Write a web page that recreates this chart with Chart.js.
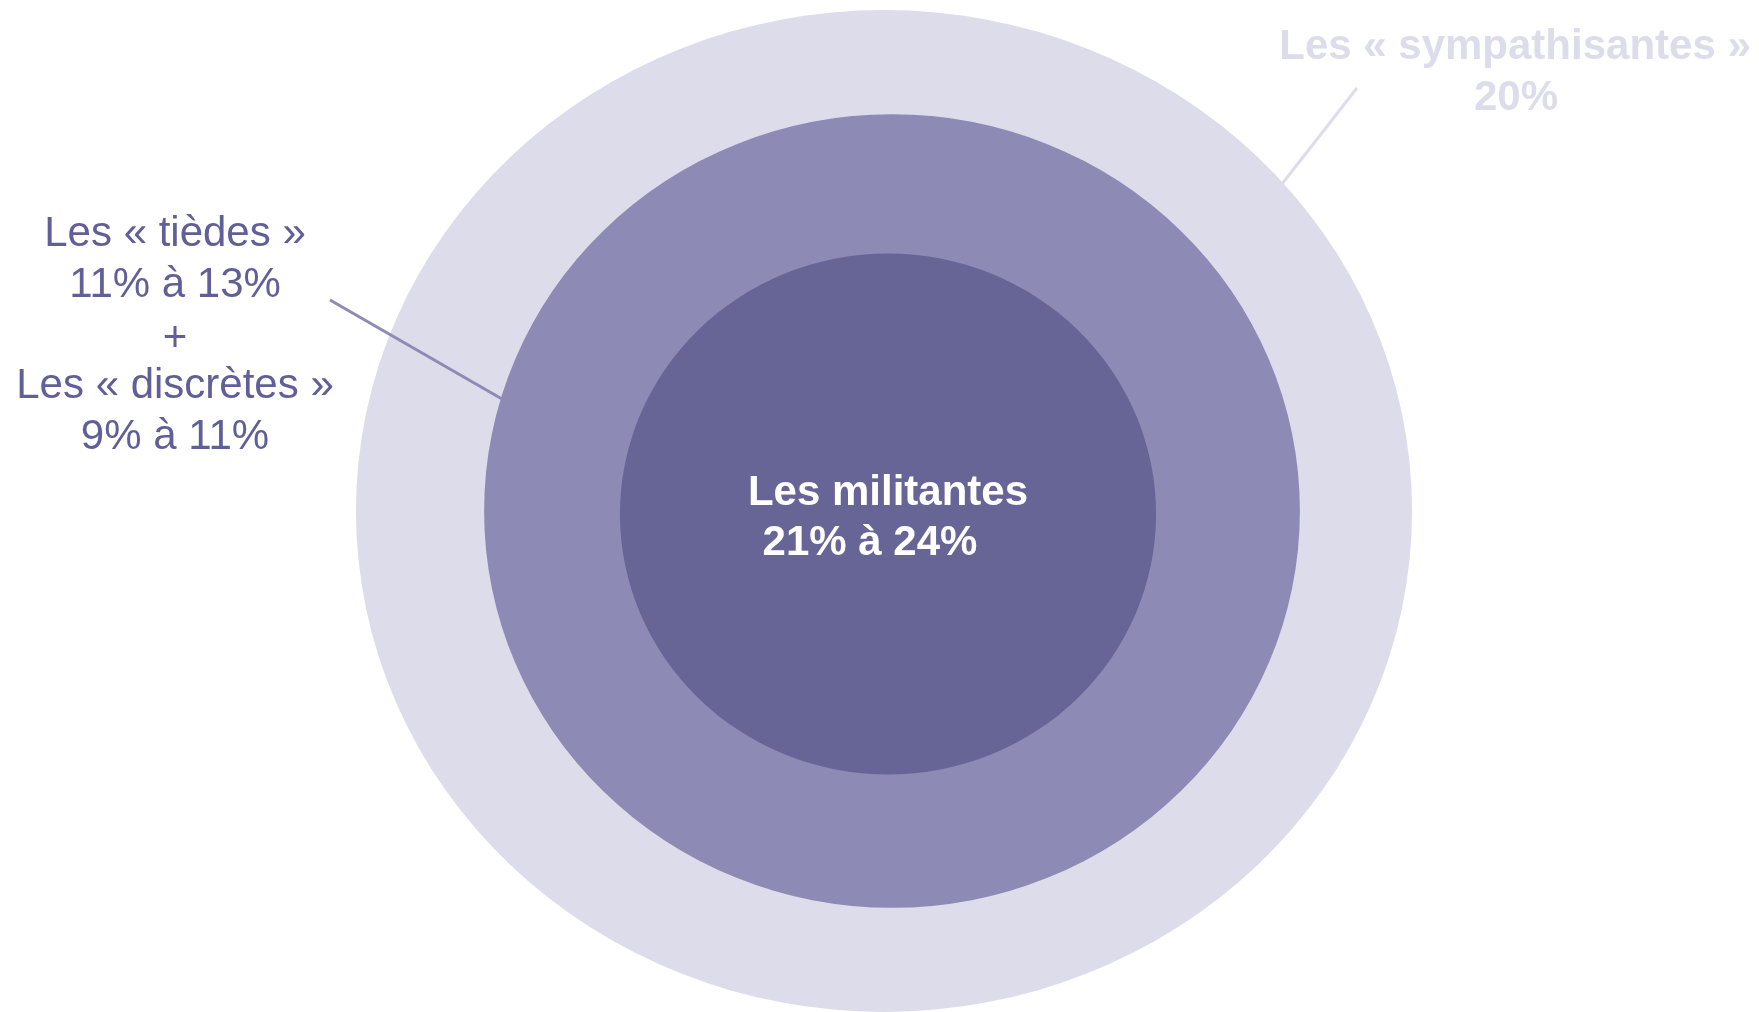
<!DOCTYPE html>
<html>
<head>
<meta charset="utf-8">
<script src="https://cdn.jsdelivr.net/npm/chart.js@4/dist/chart.umd.min.js"></script>
<style>
  html, body { margin: 0; padding: 0; background: #ffffff; }
  #wrap { width: 1759px; height: 1012px; position: relative; }
</style>
</head>
<body>
<div id="wrap"><canvas id="c"></canvas></div>
<script>
// Segments, from outermost ring to the core
const categories = ['Les « sympathisantes »', 'Les « tièdes » + Les « discrètes »', 'Les militantes'];
const shareValues = [20, 22, 22.5];          // approximate shares (%)
const ringThickness = [104, 136, 260];        // relative ring weights
const ringColors = ['#DDDCEA', '#8D8BB5', '#666596'];
const ringStretchX = [1.054, 1.028, 1.029];   // slight elliptical shape
const ringShiftX = [-4, 4, 0];
const ringShiftY = [0, 0, 3];

const labelLines = {
  sympathisantes: ['Les « sympathisantes »', '20%'],
  tiedes: ['Les « tièdes »', '11% à 13%', '+', 'Les « discrètes »', '9% à 11%'],
  militantes: ['Les militantes', '21% à 24%']
};

const FONT = '"Liberation Sans", Arial, Helvetica, sans-serif';

// Draw each ring as a full ellipse (stacked), so small offsets leave no gaps
const ellipsePlugin = {
  id: 'ellipse',
  afterDatasetUpdate(chart, args) {
    const meta = chart.getDatasetMeta(args.index);
    meta.data.forEach(el => { el.innerRadius = 0; });
  },
  beforeDatasetDraw(chart, args) {
    const meta = chart.getDatasetMeta(args.index);
    const arc = meta.data[0];
    const ctx = chart.ctx;
    ctx.save();
    ctx.translate(arc.x + ringShiftX[args.index], arc.y + ringShiftY[args.index]);
    ctx.scale(ringStretchX[args.index], 1);
    ctx.translate(-arc.x, -arc.y);
  },
  afterDatasetDraw(chart) {
    chart.ctx.restore();
  }
};

const labelPlugin = {
  id: 'labels',
  afterDraw(chart) {
    const ctx = chart.ctx;
    ctx.save();
    ctx.textAlign = 'center';
    ctx.textBaseline = 'alphabetic';

    // leader lines
    ctx.lineWidth = 3;
    ctx.strokeStyle = '#8D8BB5';
    ctx.beginPath(); ctx.moveTo(330, 300); ctx.lineTo(502, 399); ctx.stroke();
    ctx.strokeStyle = '#DDDCEA';
    ctx.beginPath(); ctx.moveTo(1357, 88); ctx.lineTo(1282, 184); ctx.stroke();

    // Sympathisantes
    ctx.fillStyle = '#DDDCEA';
    ctx.font = 'bold 42px ' + FONT;
    ctx.fillText(labelLines.sympathisantes[0], 1515, 59);
    ctx.fillText(labelLines.sympathisantes[1], 1516, 110);

    // Tièdes / discrètes
    ctx.fillStyle = '#605F97';
    ctx.font = '42px ' + FONT;
    const base = [246, 297, 351, 398, 449];
    labelLines.tiedes.forEach((t, i) => ctx.fillText(t, 175, base[i]));

    // Militantes
    ctx.fillStyle = '#FFFFFF';
    ctx.font = 'bold 42px ' + FONT;
    ctx.fillText(labelLines.militantes[0], 888, 505);
    ctx.fillText(labelLines.militantes[1], 870, 555);
    ctx.restore();
  }
};

new Chart(document.getElementById('c'), {
  type: 'doughnut',
  data: {
    labels: [''],
    datasets: categories.map((name, i) => ({
      label: name,
      data: [shareValues[i]],
      backgroundColor: ringColors[i],
      borderWidth: 0,
      hoverBorderWidth: 0,
      hoverOffset: 0,
      offset: 0,
      weight: ringThickness[i],
      order: categories.length - i
    }))
  },
  options: {
    responsive: true,
    maintainAspectRatio: false,
    animation: false,
    events: [],
    cutout: 0,
    layout: { padding: { top: 10, bottom: 0, left: 17, right: 0 } },
    plugins: { legend: { display: false }, tooltip: { enabled: false } }
  },
  plugins: [ellipsePlugin, labelPlugin]
});
</script>
</body>
</html>
